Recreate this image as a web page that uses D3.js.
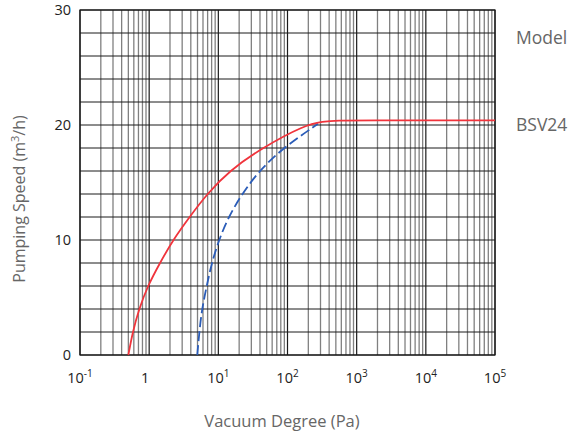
<!DOCTYPE html>
<html><head><meta charset="utf-8">
<script src="https://cdn.jsdelivr.net/npm/d3@7"></script>
<style>body{margin:0;background:#fff}svg{display:block}</style>
</head><body>
<svg id="c" width="583" height="435"></svg>
<script>
// Data
const redPressure = [0.5, 0.578, 0.713, 0.952, 1.43, 2.21, 3.83, 6.86, 14.3, 42.4, 179, 320, 550, 1000, 100000];
const redSpeed    = [0, 2, 4, 6, 8, 10, 12, 14, 16, 18, 20, 20.3, 20.4, 20.4, 20.4];
const bluePressure = [4.96, 5.31, 5.80, 6.79, 8.02, 10.2, 14.0, 22.0, 38.7, 86.1, 276];
const blueSpeed    = [0, 2, 4, 6, 8, 10, 12, 14, 16, 18, 20.1];
const yTicks = [0, 10, 20, 30];
const xTickExp = [-1, 0, 1, 2, 3, 4, 5];
const models = ["Model", "BSV24"];

const svg = d3.select("#c");
const L = 80, R = 495, T = 10, B = 355;
const x = d3.scaleLog().domain([0.1, 100000]).range([L, R]);
const y = d3.scaleLinear().domain([0, 30]).range([B, T]);
const font = "'Open Sans', 'DejaVu Sans', sans-serif";

// vertical minor grid
const minors = [];
for (let e = -1; e < 5; e++) for (let m = 2; m <= 9; m++) minors.push(m * Math.pow(10, e));
svg.append("g").selectAll("line").data(minors).join("line")
  .attr("x1", d => x(d)).attr("x2", d => x(d)).attr("y1", T).attr("y2", B)
  .attr("stroke", "#808080").attr("stroke-width", 1.3);
// horizontal grid
svg.append("g").selectAll("line").data(d3.range(0, 31, 2)).join("line")
  .attr("x1", L).attr("x2", R).attr("y1", d => y(d)).attr("y2", d => y(d))
  .attr("stroke", "#1a1a1a").attr("stroke-width", 1);
// vertical major grid
svg.append("g").selectAll("line").data(xTickExp.map(e => Math.pow(10, e))).join("line")
  .attr("x1", d => x(d)).attr("x2", d => x(d)).attr("y1", T).attr("y2", B)
  .attr("stroke", "#1a1a1a").attr("stroke-width", 1.2);
svg.append("rect").attr("x", L).attr("y", T).attr("width", R - L).attr("height", B - T)
  .attr("fill", "none").attr("stroke", "#1a1a1a").attr("stroke-width", 1.2);

// curves
const line = d3.line().x(d => x(d[0])).y(d => y(d[1])).curve(d3.curveBasis);
svg.append("path").datum(bluePressure.map((p, i) => [p, blueSpeed[i]]))
  .attr("d", line).attr("fill", "none").attr("stroke", "#2a5cb8").attr("stroke-width", 1.8)
  .attr("stroke-dasharray", "10,4");
svg.append("path").datum(redPressure.map((p, i) => [p, redSpeed[i]]))
  .attr("d", line).attr("fill", "none").attr("stroke", "#f0343c").attr("stroke-width", 1.8);

// y tick labels
svg.append("g").selectAll("text").data(yTicks).join("text")
  .attr("x", 71).attr("y", d => y(d) + 5).attr("text-anchor", "end")
  .attr("font-family", font).attr("font-size", 14.5).attr("fill", "#222").text(d => d);

// x tick labels
const xl = svg.append("g").selectAll("text").data(xTickExp).join("text")
  .attr("x", d => x(Math.pow(10, d)) + (d === 0 ? -4 : 0)).attr("y", 383)
  .attr("text-anchor", "middle").attr("font-family", font).attr("font-size", 14.5).attr("fill", "#222");
xl.each(function(d) {
  const t = d3.select(this);
  if (d === 0) { t.text("1"); return; }
  t.append("tspan").text("10");
  t.append("tspan").attr("dy", -6).attr("font-size", 10).text(d);
});

// axis titles
svg.append("text").attr("x", 282).attr("y", 427).attr("text-anchor", "middle")
  .attr("font-family", font).attr("font-size", 16.5).attr("fill", "#666").text("Vacuum Degree (Pa)");
const yt = svg.append("text").attr("transform", "translate(25,199) rotate(-90)").attr("text-anchor", "middle")
  .attr("font-family", font).attr("font-size", 16).attr("fill", "#666");
yt.append("tspan").text("Pumping Speed (m");
yt.append("tspan").attr("dy", -6).attr("font-size", 11).text("3");
yt.append("tspan").attr("dy", 6).text("/h)");

// model labels
svg.append("g").selectAll("text").data(models).join("text")
  .attr("x", 516).attr("y", (d, i) => i === 0 ? 44 : 131)
  .attr("font-family", font).attr("font-size", 17.5).attr("fill", "#666").text(d => d);
</script>
</body></html>
